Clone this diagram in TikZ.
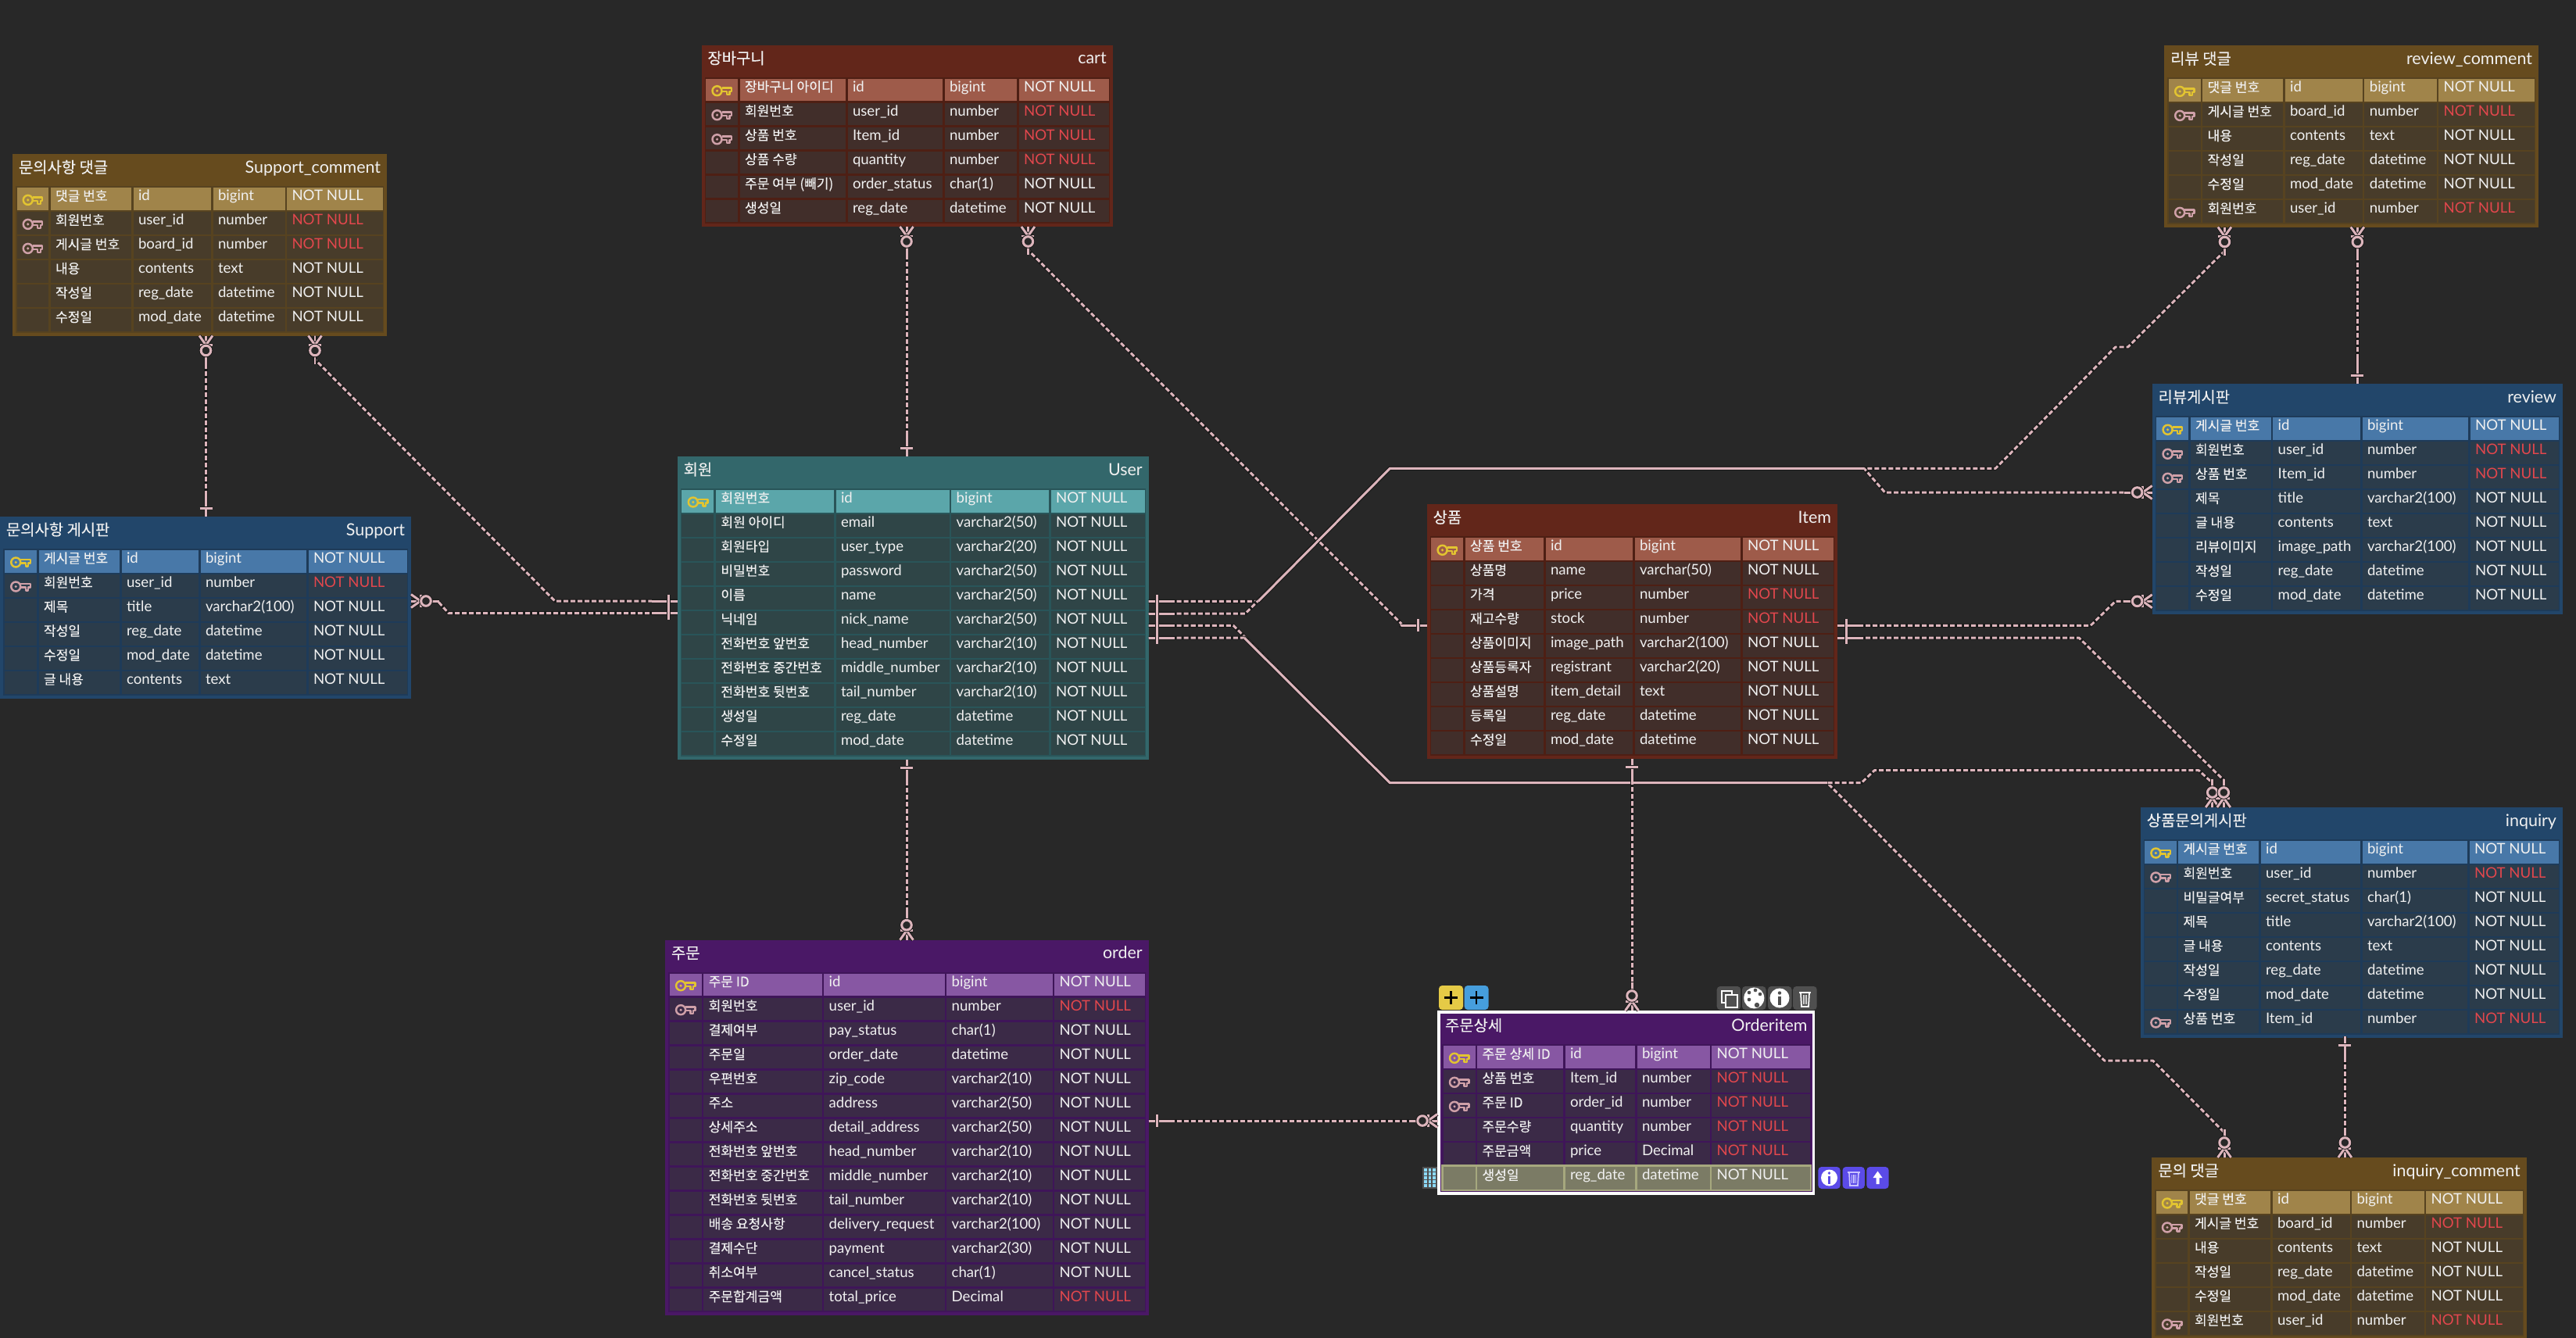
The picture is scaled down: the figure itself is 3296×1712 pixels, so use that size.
\documentclass[tikz,border=0pt]{standalone}
\usepackage{fontspec}
\setmainfont{Lato}
\newfontfamily\kr{Noto Sans CJK KR}[FakeBold=0.2]
\usetikzlibrary{positioning}

%colours: T title, F frame, H key row, R other rows
\definecolor{bgDark}{HTML}{282828}
\definecolor{redT}{HTML}{62261A}\definecolor{redF}{HTML}{4E1F14}\definecolor{redH}{HTML}{9E5B4A}\definecolor{redR}{HTML}{412E2A}
\definecolor{brownT}{HTML}{664B1E}\definecolor{brownF}{HTML}{574320}\definecolor{brownH}{HTML}{A0844A}\definecolor{brownR}{HTML}{483C2A}
\definecolor{tealT}{HTML}{33676B}\definecolor{tealF}{HTML}{295559}\definecolor{tealH}{HTML}{5BA6AA}\definecolor{tealR}{HTML}{2F4547}
\definecolor{blueT}{HTML}{22466A}\definecolor{blueF}{HTML}{1E3B59}\definecolor{blueH}{HTML}{4878A8}\definecolor{blueR}{HTML}{2B3C4B}
\definecolor{purpleT}{HTML}{4A1866}\definecolor{purpleF}{HTML}{3F1559}\definecolor{purpleH}{HTML}{8757A3}\definecolor{purpleR}{HTML}{3B2A47}
\definecolor{selRow}{HTML}{7B7B65}\definecolor{selEdge}{HTML}{A6A87E}
\definecolor{cellWhite}{HTML}{F0F0F0}\definecolor{nullRed}{HTML}{E2474D}
\definecolor{keyGold}{HTML}{E2C431}\definecolor{keyPink}{HTML}{CFA0A8}
\definecolor{relPink}{HTML}{DDB5BC}\definecolor{relDark}{HTML}{191919}
\definecolor{toolGrey}{HTML}{4F4F4F}\definecolor{toolBlue}{HTML}{5B4BE8}\definecolor{toolLilac}{HTML}{C9C2FF}

\tikzset{
  coltxt/.style={anchor=base west,inner sep=0pt,outer sep=0pt,text=cellWhite,font=\fontsize{5.3}{6}\selectfont},
  kortxt/.style={coltxt,font=\kr\fontsize{4.85}{6}\selectfont},
  ttltxt/.style={coltxt,font=\fontsize{6.1}{7}\selectfont},
  kttltxt/.style={coltxt,font=\kr\fontsize{5.65}{7}\selectfont},
  tablebox/.style={anchor=north west,inner sep=0pt,outer sep=0pt},
  rel/.style={draw=relPink,line width=.85pt,dash pattern=on .6mm off .3mm,line join=round,preaction={draw=relDark,line width=1.4pt,solid}},
  relsolid/.style={draw=relPink,line width=.85pt,line join=round,preaction={draw=relDark,line width=1.4pt}},
  btn/.style={rounded corners=1.2pt},
  keyicon/.pic={
    \draw[line width=.7pt] (-6,0) circle (6);
    \fill (-6,0) circle (1.7);
    \draw[line width=.7pt,line join=round] (0,-3.5) -- (12.5,-3.5) -- (12.5,1) -- (10,1) -- (10,5) -- (6.5,5) -- (6.5,1) -- (0,1);
  },
  oneend/.pic={
    \draw[relsolid] (0,0) -- (33,0);
    \draw[relsolid] (11,-8) -- (11,8);
  },
  manyend/.pic={
    \draw[relsolid] (0,0) -- (36,0);
    \draw[relsolid] (12,-8) -- (12,8);
    \draw[relsolid] (0,-8.5) -- (12,0) -- (0,8.5);
    \draw[relsolid,fill=bgDark] (19,0) circle (6.3);
  }
}

%table frame and title
\newcommand{\ertable}[8]{%
  \def\tname{#1}\def\tL{#2}\def\tT{#3}\def\tR{#4}\def\tN{#5}\def\tone{#6}
  \pgfmathsetmacro{\tw}{(\tR-\tL)*0.01}
  \pgfmathsetmacro{\th}{(46.5+31*\tN)*0.01}
  \node[tablebox,fill=\tone T,minimum width=\tw cm,minimum height=\th cm] (\tname) at (\tL,\tT) {};
  \fill[\tone F] ({\tL+4},{\tT+41}) rectangle ({\tR-4},{\tT+42.5+31*\tN});
  \node[kttltxt] (\tname-kor) at ({\tL+8},{\tT+24}) {#7};
  \node[ttltxt,anchor=base east] (\tname-eng) at ({\tR-8},{\tT+24}) {#8};
}
%column edges of the current table
\newcommand{\ercols}[4]{%
  \pgfmathsetmacro{\pA}{\tL+5.5}\def\pB{#1}\def\pC{#2}\def\pD{#3}\def\pE{#4}
  \pgfmathsetmacro{\pF}{\tR-5}
}
%one row: index, mark (0 none, 1 foreign key, 2 key, 3 picked), texts, colour of the null text
\newcommand{\errow}[6]{%
  \pgfmathsetmacro{\ry}{\tT+43+31*#1}
  \pgfmathsetmacro{\rb}{\ry+28.5}
  \edef\rowfill{\tone R}
  \ifnum#2=2 \edef\rowfill{\tone H}\fi
  \ifnum#2=3 \def\rowfill{selRow}
    \fill[selEdge] ({\tL+3},{\ry-3}) rectangle ({\tR-3},{\rb+2});
  \fi
  \fill[\rowfill] (\pA,\ry) rectangle (\pB,\rb);
  \fill[\rowfill] ({\pB+2.5},\ry) rectangle (\pC,\rb);
  \fill[\rowfill] ({\pC+2.5},\ry) rectangle (\pD,\rb);
  \fill[\rowfill] ({\pD+2.5},\ry) rectangle (\pE,\rb);
  \fill[\rowfill] ({\pE+2.5},\ry) rectangle (\pF,\rb);
  \ifnum#2=1 \pic[color=keyPink] at ({(\pA+\pB)/2},{\ry+15.5}) {keyicon};\fi
  \ifnum#2=2 \pic[color=keyGold] at ({(\pA+\pB)/2},{\ry+15.5}) {keyicon};\fi
  \node[kortxt] (\tname-#1-kor) at ({\pB+9},{\ry+16.5}) {#3};
  \node[coltxt] (\tname-#1-col) at ({\pC+9},{\ry+16.5}) {#4};
  \node[coltxt] (\tname-#1-type) at ({\pD+9},{\ry+16.5}) {#5};
  \node[coltxt,text=#6] (\tname-#1-null) at ({\pE+9},{\ry+16.5}) {NOT NULL};
}
\newcommand{\errows}[1]{%
  \foreach \i/\m/\k/\c/\t/\n in {#1}{\errow{\i}{\m}{\k}{\c}{\t}{\n}}
}

\begin{document}
\begin{tikzpicture}[x=0.01cm,y=-0.01cm]
\useasboundingbox (0,0) rectangle (3296,1712);
\clip (0,0) rectangle (3296,1712);
\fill[bgDark] (0,0) rectangle (3296,1712);

%cart
\ertable{cart}{897.5}{57.7}{1423.7}{6}{red}{장바구니}{cart}
\ercols{944}{1082}{1206}{1301}
\errows{0/2/장바구니 아이디/id/bigint/cellWhite,
  1/1/회원번호/user\_id/number/nullRed,
  2/1/상품 번호/Item\_id/number/nullRed,
  3/0/상품 수량/quantity/number/nullRed,
  4/0/주문 여부 (빼기)/order\_status/char(1)/cellWhite,
  5/0/생성일/reg\_date/datetime/cellWhite}

%support comment
\ertable{suppc}{16}{197.4}{495}{6}{brown}{문의사항 댓글}{Support\_comment}
\ercols{62}{168}{270}{364.5}
\errows{0/2/댓글 번호/id/bigint/cellWhite,
  1/1/회원번호/user\_id/number/nullRed,
  2/1/게시글 번호/board\_id/number/nullRed,
  3/0/내용/contents/text/cellWhite,
  4/0/작성일/reg\_date/datetime/cellWhite,
  5/0/수정일/mod\_date/datetime/cellWhite}

%support
\ertable{supp}{0}{661}{526}{6}{blue}{문의사항 게시판}{Support}
\ercols{47}{153}{254}{392}
\errows{0/2/게시글 번호/id/bigint/cellWhite,
  1/1/회원번호/user\_id/number/nullRed,
  2/0/제목/title/varchar2(100)/cellWhite,
  3/0/작성일/reg\_date/datetime/cellWhite,
  4/0/수정일/mod\_date/datetime/cellWhite,
  5/0/글 내용/contents/text/cellWhite}

%user
\ertable{user}{866.7}{584}{1469.7}{11}{teal}{회원}{User}
\ercols{913.4}{1067}{1214.7}{1342}
\errows{0/2/회원번호/id/bigint/cellWhite,
  1/0/회원 아이디/email/varchar2(50)/cellWhite,
  2/0/회원타입/user\_type/varchar2(20)/cellWhite,
  3/0/비밀번호/password/varchar2(50)/cellWhite,
  4/0/이름/name/varchar2(50)/cellWhite,
  5/0/닉네임/nick\_name/varchar2(50)/cellWhite,
  6/0/전화번호 앞번호/head\_number/varchar2(10)/cellWhite,
  7/0/전화번호 중간번호/middle\_number/varchar2(10)/cellWhite,
  8/0/전화번호 뒷번호/tail\_number/varchar2(10)/cellWhite,
  9/0/생성일/reg\_date/datetime/cellWhite,
  10/0/수정일/mod\_date/datetime/cellWhite}

%item
\ertable{item}{1825.6}{645.3}{2351}{9}{red}{상품}{Item}
\ercols{1872}{1975}{2089}{2227}
\errows{0/2/상품 번호/id/bigint/cellWhite,
  1/0/상품명/name/varchar(50)/cellWhite,
  2/0/가격/price/number/nullRed,
  3/0/재고수량/stock/number/nullRed,
  4/0/상품이미지/image\_path/varchar2(100)/cellWhite,
  5/0/상품등록자/registrant/varchar2(20)/cellWhite,
  6/0/상품설명/item\_detail/text/cellWhite,
  7/0/등록일/reg\_date/datetime/cellWhite,
  8/0/수정일/mod\_date/datetime/cellWhite}

%order
\ertable{order}{851}{1202.7}{1469.7}{14}{purple}{주문}{order}
\ercols{897.7}{1051.6}{1208.6}{1346.5}
\errows{0/2/주문 ID/id/bigint/cellWhite,
  1/1/회원번호/user\_id/number/nullRed,
  2/0/결제여부/pay\_status/char(1)/cellWhite,
  3/0/주문일/order\_date/datetime/cellWhite,
  4/0/우편번호/zip\_code/varchar2(10)/cellWhite,
  5/0/주소/address/varchar2(50)/cellWhite,
  6/0/상세주소/detail\_address/varchar2(50)/cellWhite,
  7/0/전화번호 앞번호/head\_number/varchar2(10)/cellWhite,
  8/0/전화번호 중간번호/middle\_number/varchar2(10)/cellWhite,
  9/0/전화번호 뒷번호/tail\_number/varchar2(10)/cellWhite,
  10/0/배송 요청사항/delivery\_request/varchar2(100)/cellWhite,
  11/0/결제수단/payment/varchar2(30)/cellWhite,
  12/0/취소여부/cancel\_status/char(1)/cellWhite,
  13/0/주문합계금액/total\_price/Decimal/nullRed}

%order item, the picked table
\ertable{oitem}{1841}{1295.3}{2320.5}{6}{purple}{주문상세}{Orderitem}
\ercols{1887.5}{2000}{2092}{2187.6}
\errows{0/2/주문 상세 ID/id/bigint/cellWhite,
  1/1/상품 번호/Item\_id/number/nullRed,
  2/1/주문 ID/order\_id/number/nullRed,
  3/0/주문수량/quantity/number/nullRed,
  4/0/주문금액/price/Decimal/nullRed,
  5/3/생성일/reg\_date/datetime/cellWhite}
\draw[white,line width=1.1pt] (1841,1295.2) rectangle (2320.5,1527.4);

%review comment
\ertable{revc}{2769.2}{58.4}{3248}{6}{brown}{리뷰 댓글}{review\_comment}
\ercols{2815.6}{2921}{3022.8}{3117.5}
\errows{0/2/댓글 번호/id/bigint/cellWhite,
  1/1/게시글 번호/board\_id/number/nullRed,
  2/0/내용/contents/text/cellWhite,
  3/0/작성일/reg\_date/datetime/cellWhite,
  4/0/수정일/mod\_date/datetime/cellWhite,
  5/1/회원번호/user\_id/number/nullRed}

%review
\ertable{rev}{2753.6}{491.3}{3279}{8}{blue}{리뷰게시판}{review}
\ercols{2800}{2905.7}{3020}{3158}
\errows{0/2/게시글 번호/id/bigint/cellWhite,
  1/1/회원번호/user\_id/number/nullRed,
  2/1/상품 번호/Item\_id/number/nullRed,
  3/0/제목/title/varchar2(100)/cellWhite,
  4/0/글 내용/contents/text/cellWhite,
  5/0/리뷰이미지/image\_path/varchar2(100)/cellWhite,
  6/0/작성일/reg\_date/datetime/cellWhite,
  7/0/수정일/mod\_date/datetime/cellWhite}

%inquiry
\ertable{inq}{2738.8}{1033}{3279}{8}{blue}{상품문의게시판}{inquiry}
\ercols{2784.5}{2890}{3020}{3157}
\errows{0/2/게시글 번호/id/bigint/cellWhite,
  1/1/회원번호/user\_id/number/nullRed,
  2/0/비밀글여부/secret\_status/char(1)/cellWhite,
  3/0/제목/title/varchar2(100)/cellWhite,
  4/0/글 내용/contents/text/cellWhite,
  5/0/작성일/reg\_date/datetime/cellWhite,
  6/0/수정일/mod\_date/datetime/cellWhite,
  7/1/상품 번호/Item\_id/number/nullRed}

%inquiry comment
\ertable{inqc}{2753.4}{1481}{3232.7}{6}{brown}{문의 댓글}{inquiry\_comment}
\ercols{2799}{2905}{3006.5}{3101.6}
\errows{0/2/댓글 번호/id/bigint/cellWhite,
  1/1/게시글 번호/board\_id/number/nullRed,
  2/0/내용/contents/text/cellWhite,
  3/0/작성일/reg\_date/datetime/cellWhite,
  4/0/수정일/mod\_date/datetime/cellWhite,
  5/1/회원번호/user\_id/number/nullRed}

%connector ends
\coordinate (userN) at (1160,584);
\coordinate (userS) at (1160,971.5);
\coordinate (userW1) at (866.7,769);
\coordinate (userW2) at (866.7,784.7);
\coordinate (userE1) at (1469.7,769.3);
\coordinate (userE2) at (1469.7,785);
\coordinate (userE3) at (1469.7,800.3);
\coordinate (userE4) at (1469.7,816);
\coordinate (cartS1) at (1160,290);
\coordinate (cartS2) at (1315.4,290);
\coordinate (suppcS1) at (263.5,429.5);
\coordinate (suppcS2) at (403,429.5);
\coordinate (suppN) at (263.5,661);
\coordinate (suppE) at (526,769);
\coordinate (orderN) at (1160,1202.7);
\coordinate (orderE) at (1469.7,1434);
\coordinate (itemW) at (1825.6,800.3);
\coordinate (itemS) at (2088,970.8);
\coordinate (itemE1) at (2351,800.3);
\coordinate (itemE2) at (2351,816);
\coordinate (oitemN) at (2088,1293);
\coordinate (oitemW) at (1839,1434);
\coordinate (revcS1) at (2846.4,290.5);
\coordinate (revcS2) at (3016.3,290.5);
\coordinate (revN) at (3016.3,491.3);
\coordinate (revW1) at (2753.6,630);
\coordinate (revW2) at (2753.6,769.3);
\coordinate (inqN1) at (2830.7,1033);
\coordinate (inqN2) at (2845.3,1033);
\coordinate (inqS) at (3000.4,1326);
\coordinate (inqcN1) at (2846,1481);
\coordinate (inqcN2) at (3000.4,1481);

%connectors
\draw[rel] (cartS1) -- (userN);
\draw[rel] (userS) -- (orderN);
\draw[rel] (suppcS1) -- (suppN);
\draw[rel] (revcS2) -- (revN);
\draw[rel] (inqS) -- (inqcN2);
\draw[rel] (itemS) -- (oitemN);
\draw[rel] (orderE) -- (oitemW);
\draw[rel] (cartS2) -- (1315.4,320) -- (1793,798) -- (1793,800.3) -- (itemW);
\draw[rel] (suppcS2) -- (403,460) -- (710,769) -- (userW1);
\draw[rel] (suppE) -- (560,769) -- (574,784.7) -- (userW2);
\draw[rel] (userE1) -- (1610,769.3) -- (1778.4,599.3) -- (2553.3,599.3) -- (2706.7,444) -- (2722.7,444) -- (2846.4,321) -- (revcS1);
\draw[rel] (userE2) -- (1593.5,785) -- (1778.4,599.3) -- (2385,599.3) -- (2411.7,630) -- (revW1);
\draw[rel] (userE3) -- (1578,800.3) -- (1778.4,1001.7) -- (2338,1001.7) -- (2692.4,1357) -- (2754.6,1357) -- (2846,1449) -- (inqcN1);
\draw[rel] (userE4) -- (1592,816) -- (1778.4,1001.7) -- (2381.7,1001.7) -- (2398.3,985.7) -- (2813.3,985.7) -- (2830.7,1001.7) -- (inqN1);
\draw[rel] (itemE1) -- (2675,800.3) -- (2706.7,769.3) -- (revW2);
\draw[rel] (itemE2) -- (2660,816) -- (2845.3,998.3) -- (inqN2);
%shared runs
\draw[relsolid] (1610,769.3) -- (1778.4,599.3) -- (2385,599.3);
\draw[relsolid] (1592,816) -- (1778.4,1001.7) -- (2338,1001.7);

%connector marks
\foreach \p/\r in {userN/90,userS/270,userW1/180,userW2/180,userE1/0,userE2/0,userE3/0,userE4/0,suppN/90,orderE/0,itemW/180,itemS/270,itemE1/0,itemE2/0,revN/90,inqS/270}
  \pic[rotate=\r] at (\p) {oneend};
\foreach \p/\r in {cartS1/270,cartS2/270,suppcS1/270,suppcS2/270,suppE/0,orderN/90,oitemN/90,oitemW/180,revcS1/270,revcS2/270,revW1/180,revW2/180,inqN1/90,inqN2/90,inqcN1/90,inqcN2/90}
  \pic[rotate=\r] at (\p) {manyend};

%buttons over the picked table
\fill[btn,fill=keyGold!90!white] (1841,1261) rectangle (1872,1292);
\fill[btn,fill=cyan!70!blue!75!white] (1873.7,1261) rectangle (1904.5,1292);
\foreach \x in {1856.5,1889}{
  \draw[black,line width=.6pt] (\x,1268) -- (\x,1285);
  \draw[black,line width=.6pt] ({\x-8.5},1276.5) -- ({\x+8.5},1276.5);
}
\foreach \x in {2196.7,2229,2262,2294.2}
  \fill[btn,fill=toolGrey] (\x,1262) rectangle ++(30.5,30);
%copy
\draw[white,line width=.5pt] (2203,1268) rectangle (2216,1283);
\draw[white,line width=.5pt,fill=toolGrey] (2208,1273) rectangle (2223,1289);
%palette
\fill[white] (2244.3,1277) ellipse (13 and 13.5);
\foreach \x/\y in {2238/1270,2246/1267,2252/1272,2238/1279}
  \fill[toolGrey] (\x,\y) circle (2.3);
\fill[toolGrey] (2248,1286) circle (3.2);
%info
\fill[white] (2277,1277) circle (12.5);
\fill[toolGrey] (2275.2,1275) rectangle (2278.8,1286);
\fill[toolGrey] (2277,1270.5) circle (2.2);
%trash
\draw[white,line width=.5pt] (2302,1270) -- (2317,1270);
\draw[white,line width=.5pt] (2304,1270) -- (2305,1288) -- (2314,1288) -- (2315,1270);
\foreach \x in {2307.5,2309.5,2311.5}
  \draw[white,line width=.3pt] (\x,1273) -- (\x,1285);

%row handle
\fill[toolGrey] (1819.5,1493) rectangle (1839.4,1521);
\foreach \x in {1824,1829.5,1835}
  \foreach \y in {1497,1502,1507,1512,1517}
    \fill[cyan!45!white] ({\x-1.8},{\y-1.8}) rectangle ({\x+1.8},{\y+1.8});

%row buttons
\foreach \x in {2326.4,2357.6,2388.4}
  \fill[btn,fill=toolBlue] (\x,1493) rectangle ++(28.2,28);
\fill[white] (2340.5,1507) circle (10.5);
\fill[toolBlue] (2339,1505) rectangle (2342,1514.5);
\fill[toolBlue] (2340.5,1501) circle (1.9);
\draw[toolLilac,line width=.5pt] (2364,1500) -- (2380,1500);
\draw[toolLilac,line width=.5pt] (2366,1500) -- (2367,1517) -- (2377,1517) -- (2378,1500);
\foreach \x in {2369.5,2372,2374.5}
  \draw[toolLilac,line width=.3pt] (\x,1503) -- (\x,1514);
\fill[white] (2402.5,1498.5) -- (2408.5,1507) -- (2404.5,1507) -- (2404.5,1515) -- (2400.5,1515) -- (2400.5,1507) -- (2396.5,1507) -- cycle;
\end{tikzpicture}
\end{document}
